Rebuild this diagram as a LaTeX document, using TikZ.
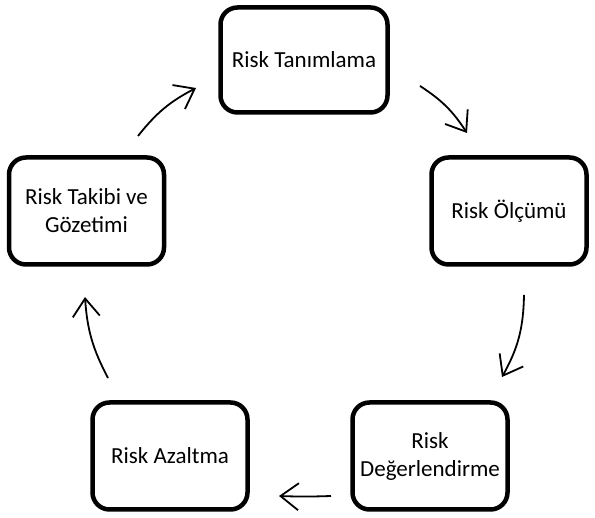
\documentclass[tikz,border=0pt]{standalone}
\usepackage{fontspec}
\setmainfont{Carlito}
\usetikzlibrary{arrows.meta}

\begin{document}
\begin{tikzpicture}[x=1pt, y=1pt,
  stage/.style={draw, line width=4.5pt, rounded corners=17pt, align=center,
    minimum width=155pt, minimum height=107pt, font=\fontsize{23}{28}\selectfont},
  cycarrow/.style={line width=1.8pt, -{Straight Barb[length=18pt, width=27pt, line width=1.8pt]}}]

\useasboundingbox (0,0) rectangle (595,518) ;

\node [stage, minimum width=167pt, minimum height=105pt] (tanim) at (304,458) {Risk Tanımlama} ;
\node [stage] (olcum) at (509,307) {Risk Ölçümü} ;
\node [stage] (deger) at (430,62) {Risk\\Değerlendirme} ;
\node [stage] (azalt) at (170,62) {Risk Azaltma} ;
\node [stage] (takip) at (86.5,307) {Risk Takibi ve\\Gözetimi} ;

\coordinate (a1) at (138,382) ;
\coordinate (b1) at (196,430) ;
\coordinate (a2) at (420,432) ;
\coordinate (b2) at (467,385) ;
\coordinate (a3) at (524,223) ;
\coordinate (b3) at (502,141) ;
\coordinate (a4) at (331,22) ;
\coordinate (b4) at (279,22) ;
\coordinate (a5) at (108,140) ;
\coordinate (b5) at (85,221) ;

\draw [cycarrow] (a1) to [bend left=12] (b1) ;
\draw [cycarrow] (a2) to [bend left=12] (b2) ;
\draw [cycarrow] (a3) to [bend left=14] (b3) ;
\draw [cycarrow] (a4) to [bend left=2] (b4) ;
\draw [cycarrow] (a5) to [bend left=12] (b5) ;

\end{tikzpicture}
\end{document}
